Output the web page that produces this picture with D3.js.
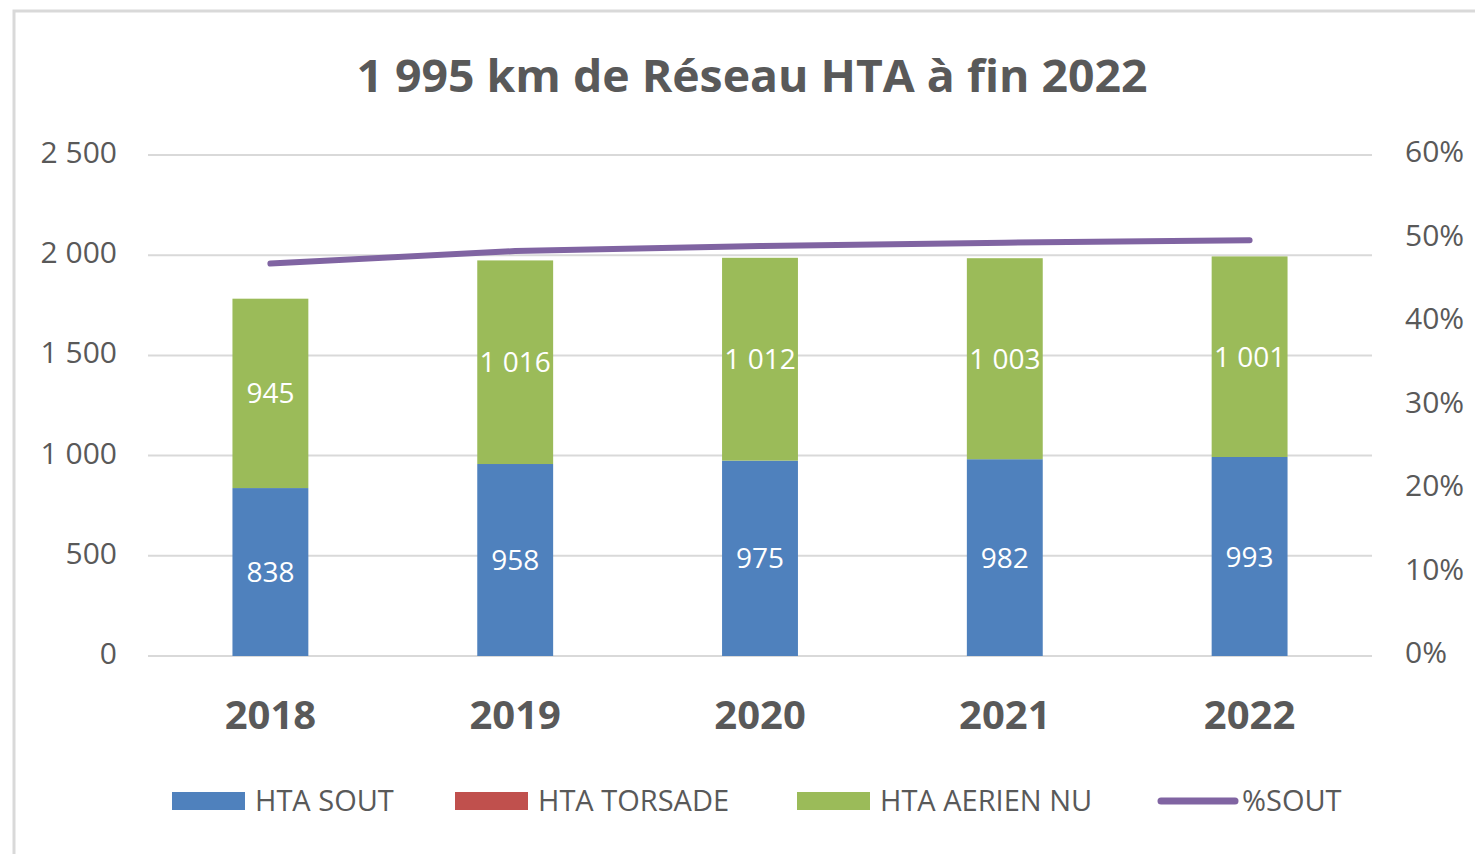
<!DOCTYPE html>
<html lang="fr">
<head>
    <meta charset="utf-8">
    <title>1 995 km de Réseau HTA à fin 2022</title>
    <script src="https://d3js.org/d3.v7.min.js"></script>
    <style>
        body { margin: 0; background: #fff; }
        text { font-family: "Open Sans", "Liberation Sans", sans-serif; fill: #595959; }
    </style>
</head>
<body>
<script>
    // data
    var years = ["2018", "2019", "2020", "2021", "2022"];
    var htaSout = [838, 958, 975, 982, 993];
    var htaTorsade = [0, 0, 0, 0, 0];
    var htaAerien = [945, 1016, 1012, 1003, 1001];
    var pctSout = [0.470, 0.485, 0.491, 0.495, 0.498];
    var leftTicks = [0, 500, 1000, 1500, 2000, 2500];
    var rightTicks = [0, 0.1, 0.2, 0.3, 0.4, 0.5, 0.6];

    var seriesNames = ["HTA SOUT", "HTA TORSADE", "HTA AERIEN NU"];
    var seriesKeys = ["sout", "torsade", "aerien"];
    var colors = { sout: "#4f81bd", torsade: "#c0504d", aerien: "#9bbb59" };
    var lineColor = "#8064a2";

    var width = 1475, height = 854;
    // note: "top" is a reserved window property, so plot edges get their own names
    var plotLeft = 148, plotRight = 1372, plotTop = 155, plotBottom = 656;

    var rows = years.map(function(y, i) {
        return { year: y, sout: htaSout[i], torsade: htaTorsade[i], aerien: htaAerien[i], pct: pctSout[i] };
    });

    var fr = d3.formatLocale({ decimal: ",", thousands: " ", grouping: [3], currency: ["", " €"] });
    var fmtNum = fr.format(",d");
    var fmtPct = d3.format(".0%");

    var svg = d3.select("body").append("svg")
        .attr("width", width)
        .attr("height", height);

    // chart frame
    svg.append("path")
        .attr("d", "M14," + height + "V11H" + width)
        .attr("fill", "none")
        .attr("stroke", "#d9d9d9")
        .attr("stroke-width", 3);

    var x = d3.scaleBand().domain(years).range([plotLeft, plotRight]).paddingInner(0.69).paddingOuter(0.345);
    var y = d3.scaleLinear().domain([0, 2500]).range([plotBottom, plotTop]);
    var y2 = d3.scaleLinear().domain([0, 0.6]).range([plotBottom, plotTop]);

    // gridlines
    svg.append("g").selectAll("line")
        .data(leftTicks)
        .enter().append("line")
        .attr("x1", plotLeft).attr("x2", plotRight)
        .attr("y1", function(d) { return y(d); })
        .attr("y2", function(d) { return y(d); })
        .attr("stroke", "#d9d9d9")
        .attr("stroke-width", 2);

    // left axis
    var yAxis = svg.append("g")
        .attr("transform", "translate(" + (plotLeft - 31) + ",0)")
        .call(d3.axisLeft(y).tickValues(leftTicks).tickFormat(fmtNum).tickSize(0).tickPadding(0));
    yAxis.select(".domain").remove();
    yAxis.selectAll("text").attr("font-size", 30).attr("dy", "0.25em").style("fill", "#595959");

    // right axis
    var y2Axis = svg.append("g")
        .attr("transform", "translate(" + (plotRight + 33) + ",0)")
        .call(d3.axisRight(y2).tickValues(rightTicks).tickFormat(fmtPct).tickSize(0).tickPadding(0));
    y2Axis.select(".domain").remove();
    y2Axis.selectAll("text").attr("font-size", 30).attr("dy", "0.22em").style("fill", "#595959");

    // x axis
    var xAxis = svg.append("g")
        .attr("transform", "translate(0," + plotBottom + ")")
        .call(d3.axisBottom(x).tickSize(0).tickPadding(0));
    xAxis.select(".domain").remove();
    xAxis.selectAll("text")
        .attr("y", 73)
        .attr("dy", 0)
        .attr("font-size", 40)
        .attr("font-weight", "bold")
        .style("fill", "#595959");

    // stacked bars
    var stacked = d3.stack().keys(seriesKeys)(rows);

    var layers = svg.append("g").selectAll("g")
        .data(stacked)
        .enter().append("g")
        .attr("fill", function(d) { return colors[d.key]; });

    layers.selectAll("rect")
        .data(function(d) { return d; })
        .enter().append("rect")
        .attr("x", function(d) { return x(d.data.year); })
        .attr("width", x.bandwidth())
        .attr("y", function(d) { return y(d[1]); })
        .attr("height", function(d) { return y(d[0]) - y(d[1]); });

    // data labels (skip empty torsade segments)
    layers.selectAll("text")
        .data(function(d) { return d.filter(function(p) { return p[1] - p[0] > 0; }); })
        .enter().append("text")
        .attr("x", function(d) { return x(d.data.year) + x.bandwidth() / 2; })
        .attr("y", function(d) { return y((d[0] + d[1]) / 2); })
        .attr("dy", "0.36em")
        .attr("text-anchor", "middle")
        .attr("font-size", 28)
        .style("fill", "#fff")
        .text(function(d) { return fmtNum(d[1] - d[0]); });

    // %SOUT line
    var line = d3.line()
        .x(function(d) { return x(d.year) + x.bandwidth() / 2; })
        .y(function(d) { return y2(d.pct); });

    svg.append("path")
        .datum(rows)
        .attr("d", line)
        .attr("fill", "none")
        .attr("stroke", lineColor)
        .attr("stroke-width", 6)
        .attr("stroke-linecap", "round")
        .attr("stroke-linejoin", "round");

    // title
    svg.append("text")
        .attr("x", 752)
        .attr("y", 92)
        .attr("text-anchor", "middle")
        .attr("font-size", 44)
        .attr("font-weight", "bold")
        .attr("textLength", 791)
        .attr("lengthAdjust", "spacingAndGlyphs")
        .text("1 995 km de Réseau HTA à fin 2022");

    // legend
    var legendItems = [
        { name: seriesNames[0], color: colors.sout, x: 172, type: "rect" },
        { name: seriesNames[1], color: colors.torsade, x: 455, type: "rect" },
        { name: seriesNames[2], color: colors.aerien, x: 797, type: "rect" },
        { name: "%SOUT", color: lineColor, x: 1158, type: "line" }
    ];

    var legend = svg.append("g").selectAll("g")
        .data(legendItems)
        .enter().append("g")
        .attr("transform", function(d) { return "translate(" + d.x + ",801)"; });

    legend.filter(function(d) { return d.type === "rect"; })
        .append("rect")
        .attr("x", 0).attr("y", -9)
        .attr("width", 73).attr("height", 18)
        .attr("fill", function(d) { return d.color; });

    legend.filter(function(d) { return d.type === "line"; })
        .append("line")
        .attr("x1", 3).attr("x2", 77)
        .attr("y1", 0).attr("y2", 0)
        .attr("stroke", function(d) { return d.color; })
        .attr("stroke-width", 7)
        .attr("stroke-linecap", "round");

    legend.append("text")
        .attr("x", function(d) { return d.type === "line" ? 84 : 83; })
        .attr("y", 0)
        .attr("dy", "0.36em")
        .attr("font-size", 29)
        .text(function(d) { return d.name; });
</script>
</body>
</html>
